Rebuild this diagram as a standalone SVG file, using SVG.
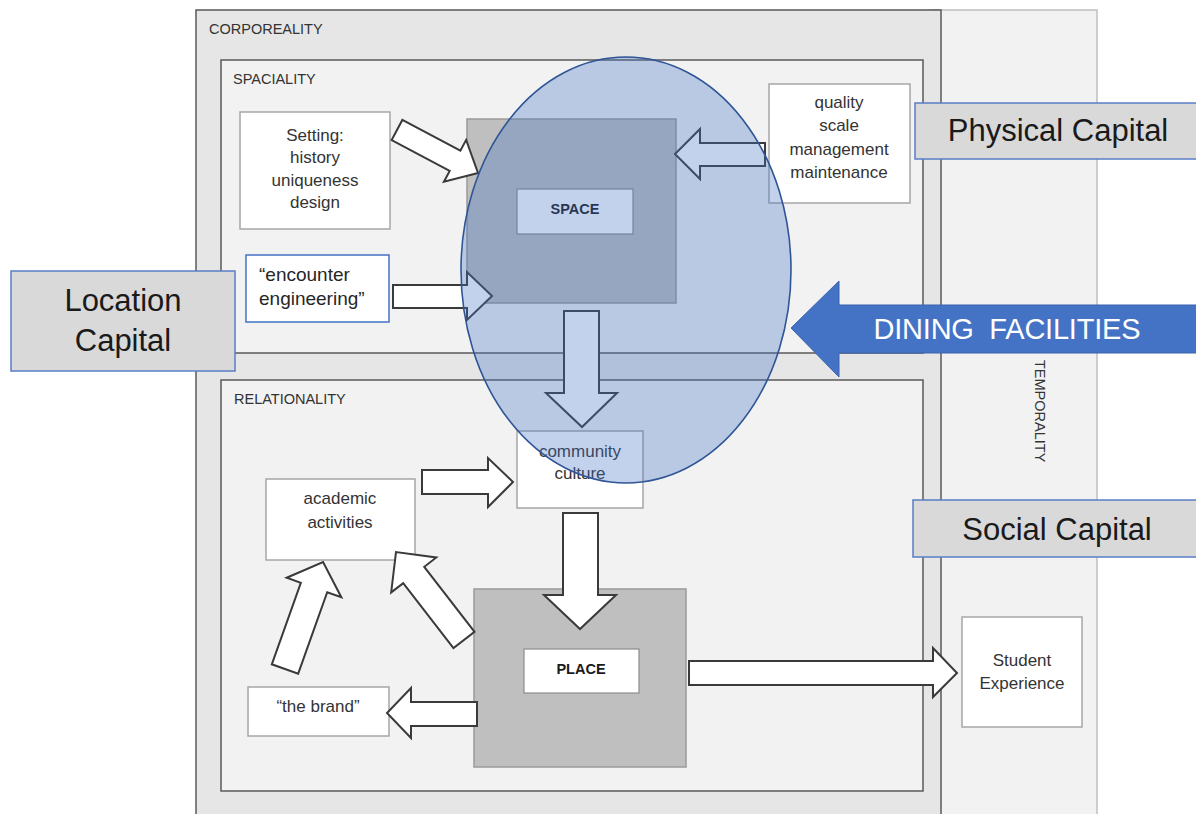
<svg xmlns="http://www.w3.org/2000/svg" width="1196" height="814" viewBox="0 0 1196 814">
  <style>
    text { font-family: "Liberation Sans", Arial, sans-serif; fill: #262626; }
    .section { font-size: 14.5px; fill: #333; }
    .box { fill: #ffffff; stroke: #a6a6a6; stroke-width: 1.5; }
    .boxtxt { font-size: 17px; text-anchor: middle; fill: #333; }
    .core { fill: #bfbfbf; stroke: #9a9a9a; stroke-width: 1.5; }
    .bold { font-size: 14.5px; font-weight: bold; text-anchor: middle; fill: #1a1a1a; }
    .flow { fill: #ffffff; stroke: #3a3a3a; stroke-width: 2; stroke-linejoin: miter; }
    .capital { fill: #d9d9d9; stroke: #5a7ec6; stroke-width: 1.5; }
    .captxt { font-size: 31px; text-anchor: middle; fill: #1a1a1a; }
  </style>

  <rect width="1196" height="814" fill="#ffffff"/>

  <!-- time frame running behind the whole model -->
  <g id="temporality">
    <rect x="930" y="10" width="167" height="820" fill="#f2f2f2" stroke="#bfbfbf" stroke-width="1.5"/>
    <text class="section" transform="translate(1035 360) rotate(90)" font-size="15">TEMPORALITY</text>
  </g>

  <g id="corporeality">
    <rect x="196" y="10" width="745" height="820" fill="#e6e6e6" stroke="#595959" stroke-width="1.5"/>
    <text class="section" x="209" y="34">CORPOREALITY</text>
  </g>

  <g id="spaciality">
    <rect x="221" y="60" width="702" height="293" fill="#f2f2f2" stroke="#595959" stroke-width="1.5"/>
    <text class="section" x="233" y="84">SPACIALITY</text>
  </g>

  <g id="relationality">
    <rect x="221" y="380" width="702" height="411" fill="#f2f2f2" stroke="#595959" stroke-width="1.5"/>
    <text class="section" x="234" y="404">RELATIONALITY</text>
  </g>

  <g id="setting">
    <rect class="box" x="240" y="112" width="150" height="117"/>
    <text class="boxtxt" x="315" y="141">Setting:</text>
    <text class="boxtxt" x="315" y="163">history</text>
    <text class="boxtxt" x="315" y="186">uniqueness</text>
    <text class="boxtxt" x="315" y="208">design</text>
  </g>

  <g id="encounter">
    <rect x="246" y="255" width="143" height="67" fill="#ffffff" stroke="#4472c4" stroke-width="1.5"/>
    <text x="259" y="281" font-size="19">“encounter</text>
    <text x="259" y="305" font-size="19">engineering”</text>
  </g>

  <g id="quality">
    <rect class="box" x="769" y="84" width="141" height="119"/>
    <text class="boxtxt" x="839" y="108">quality</text>
    <text class="boxtxt" x="839" y="131">scale</text>
    <text class="boxtxt" x="839" y="155">management</text>
    <text class="boxtxt" x="839" y="178">maintenance</text>
  </g>

  <g id="space">
    <rect class="core" x="467" y="119" width="209" height="184"/>
    <rect x="517" y="189" width="116" height="45" fill="#ffffff" stroke="#8c8c8c" stroke-width="1.2"/>
    <text class="bold" x="575" y="214">SPACE</text>
  </g>

  <g id="community">
    <rect class="box" x="517" y="431" width="126" height="77"/>
    <text class="boxtxt" x="580" y="457">community</text>
    <text class="boxtxt" x="580" y="479">culture</text>
  </g>

  <g id="academic">
    <rect class="box" x="266" y="479" width="149" height="81"/>
    <text class="boxtxt" x="340" y="504">academic</text>
    <text class="boxtxt" x="340" y="528">activities</text>
  </g>

  <g id="place">
    <rect class="core" x="474" y="589" width="212" height="178"/>
    <rect x="524" y="649" width="115" height="44" fill="#ffffff" stroke="#8c8c8c" stroke-width="1.2"/>
    <text class="bold" x="581" y="674">PLACE</text>
  </g>

  <g id="brand">
    <rect class="box" x="248" y="687" width="141" height="49"/>
    <text class="boxtxt" x="318" y="712">“the brand”</text>
  </g>

  <g id="student-experience">
    <rect class="box" x="962" y="617" width="120" height="110"/>
    <text class="boxtxt" x="1022" y="666">Student</text>
    <text class="boxtxt" x="1022" y="689">Experience</text>
  </g>

  <!-- block-arrow connectors -->
  <g id="connectors">
    <path class="flow" d="M0,-11.4 H65.7 V-23.7 L91.7,0 L65.7,23.7 V11.4 H0 Z" transform="translate(397 130) rotate(27.96)"/>
    <polygon class="flow" points="393,285 467,285 467,272 492,296 467,320 467,308 393,308"/>
    <polygon class="flow" points="765,143 700,143 700,129 675,154 700,179 700,166 765,166"/>
    <polygon class="flow" points="564,311 599,311 599,393 617,393 582,427 546,393 564,393"/>
    <polygon class="flow" points="422,470 488,470 488,458 513,482 488,507 488,494 422,494"/>
    <polygon class="flow" points="563,513 598,513 598,595 616,595 580,629 544,595 563,595"/>
    <polygon class="flow" points="477,702 411,702 411,688 387,713 411,738 411,726 477,726"/>
    <path class="flow" d="M0,-13.3 H82.2 V-28.5 L111.2,0 L82.2,28.5 V13.3 H0 Z" transform="translate(464 640) rotate(-127.7)"/>
    <path class="flow" d="M0,-14 H86.5 V-29 L113.5,0 L86.5,29 V14 H0 Z" transform="translate(285 669) rotate(-70.4)"/>
    <polygon class="flow" points="689,661 933,661 933,648 957,673 933,697 933,685 689,685"/>
  </g>

  <!-- dining facilities zone -->
  <g id="dining-zone">
    <ellipse cx="626" cy="270" rx="165" ry="213" fill="#4472c4" fill-opacity="0.32" stroke="#2f5597" stroke-width="1.6"/>
  </g>

  <g id="location-capital">
    <rect class="capital" x="11" y="271" width="224" height="100"/>
    <text class="captxt" x="123" y="311">Location</text>
    <text class="captxt" x="123" y="351">Capital</text>
  </g>

  <g id="physical-capital">
    <rect class="capital" x="915" y="103" width="290" height="56"/>
    <text class="captxt" x="1058" y="141">Physical Capital</text>
  </g>

  <g id="social-capital">
    <rect class="capital" x="913" y="500" width="292" height="57"/>
    <text class="captxt" x="1057" y="540">Social Capital</text>
  </g>

  <g id="dining-facilities">
    <polygon points="791,328 839,281 839,305 1200,305 1200,353 839,353 839,377" fill="#4472c4" stroke="#3a63ad" stroke-width="1"/>
    <text x="1007" y="339" font-size="29" text-anchor="middle" fill="#ffffff" style="fill:#ffffff" textLength="267" xml:space="preserve">DINING  FACILITIES</text>
  </g>
</svg>
